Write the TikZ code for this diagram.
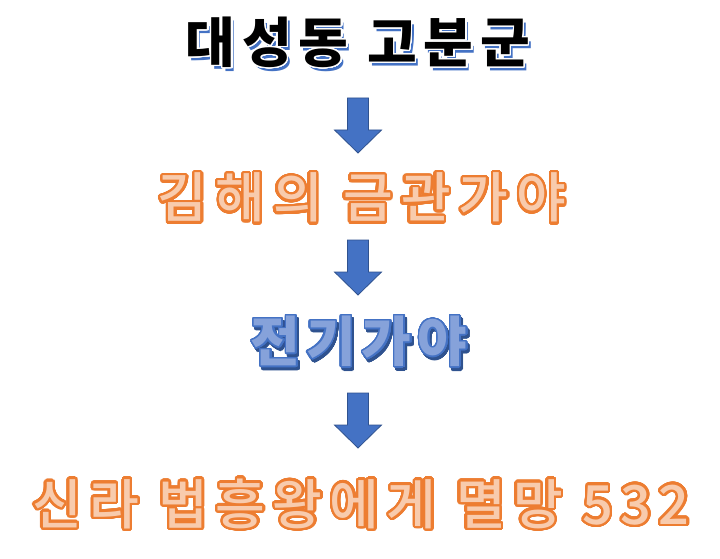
\documentclass[tikz,border=0pt]{standalone}
\usepackage{fontspec}
\newfontfamily\kr{Noto Sans CJK KR}
\newfontfamily\krmed{Noto Sans CJK KR Medium}
\usepackage{contour}
\contournumber{48}
\definecolor{korange}{HTML}{ED7D31}
\definecolor{kpeach}{HTML}{F8CBAD}
\definecolor{kblue}{HTML}{4472C4}
\definecolor{kdblue}{HTML}{2F528F}
\definecolor{kdots}{HTML}{86A2DA}
\tikzset{
  x=1pt, y=-1pt,
  bigtext/.style={inner sep=0pt, font=\kr\bfseries\fontsize{54}{60}\selectfont},
  outtext/.style={inner sep=0pt, font=\krmed\fontsize{54}{60}\selectfont},
  blockarrow/.style={fill=kblue, draw=kdblue, line width=0.8pt, line join=miter},
}
\newcommand\downblock[2]{%
  \draw[blockarrow] ({#1-10.5},{#2}) -- ({#1+10.5},{#2}) -- ({#1+10.5},{#2+32})
    -- ({#1+23.5},{#2+32}) -- ({#1},{#2+55}) -- ({#1-23.5},{#2+32})
    -- ({#1-10.5},{#2+32}) -- cycle;}
\newcommand\spaced[1]{\addfontfeatures{LetterSpace=#1}}
\begin{document}
\begin{tikzpicture}
\useasboundingbox[fill=white] (0,0) rectangle (720,559);
% title with blue shadow
\node[bigtext, text=kblue] (t1s) at (361,46) {\spaced{12.5}대성동 고분군};
\node[bigtext] (t1) at (358,43) {\spaced{12.5}\contourlength{1.3pt}\contour{white}{\textcolor{black}{대성동 고분군}}};
\downblock{358}{98}
% line 2
\node[outtext] (t2) at (362,199) {\spaced{15}\contourlength{2.4pt}\contour{korange}{\textcolor{kpeach}{김해의 금관가야}}};
\downblock{358}{240}
% line 3
\node[bigtext, text=kdblue] (t3s) at (361,345) {\spaced{11}\contourlength{1.5pt}\contour{kdblue}{전기가야}};
\node[bigtext] (t3) at (359,342) {\spaced{11}\contourlength{1.5pt}\contour{kblue}{\textcolor{kdots}{전기가야}}};
\downblock{358}{393}
% line 4
\node[outtext] (t4) at (361,505) {\spaced{13.7}\contourlength{2.4pt}\contour{korange}{\textcolor{kpeach}{신라 법흥왕에게 멸망 532}}};
\end{tikzpicture}
\end{document}
